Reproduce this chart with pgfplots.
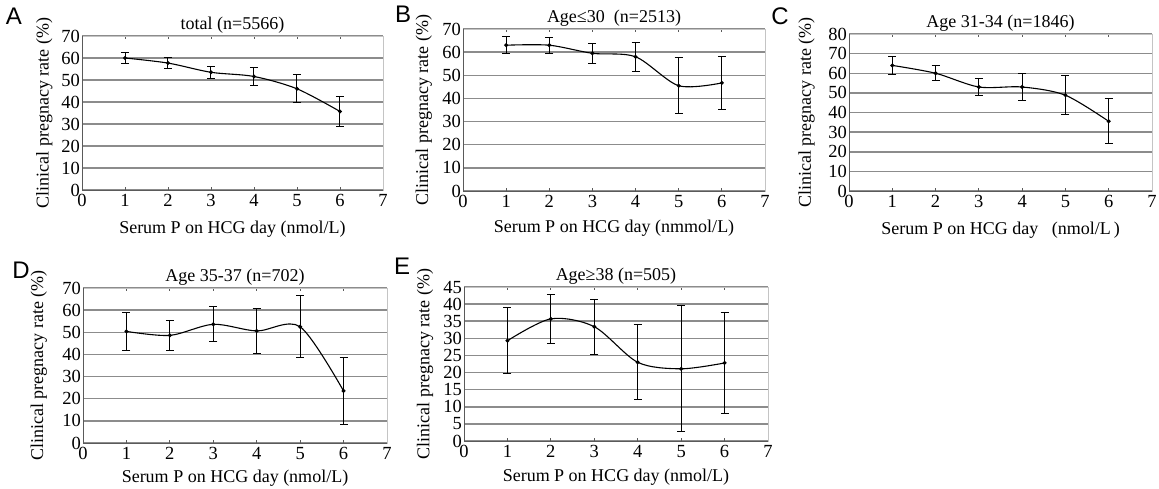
\documentclass[border=0pt]{standalone}
\usepackage{fontspec}
\setmainfont{Liberation Serif}
\newfontfamily\letterfont{Liberation Sans}
\usepackage{pgfplots}
\pgfplotsset{compat=1.18}

\definecolor{gridgray}{HTML}{8C8C8C}
\definecolor{framegray}{HTML}{C4C4C4}
\definecolor{axisdark}{HTML}{5A5A5A}

% x = serum P group, y = clinical pregnancy rate, e = error
\pgfplotstableread{
x y e
1 60.0 2.5
2 57.7 2.4
3 53.5 2.7
4 51.6 4.1
5 46.0 6.3
6 35.7 6.7
}\datA
\pgfplotstableread{
x y e
1 63.0 3.6
2 63.0 3.4
3 59.5 4.2
4 58.0 6.3
5 45.5 12.0
6 46.7 11.4
}\datB
\pgfplotstableread{
x y e
1 64.0 4.7
2 60.0 3.7
3 53.0 4.5
4 53.0 7.0
5 48.8 10.0
6 35.5 11.5
}\datC
\pgfplotstableread{
x y e
1 50.4 8.6
2 48.6 6.6
3 53.6 7.9
4 50.6 10.1
5 52.5 14.0
6 23.5 15.2
}\datD
\pgfplotstableread{
x y e
1 29.3 9.6
2 35.7 7.1
3 33.4 8.0
4 23.0 10.9
5 21.1 18.4
6 22.8 14.8
}\datE

\pgfplotsset{
  panel/.style={
    scale only axis,
    anchor=south west,
    xmin=0, xmax=7, xtick={0,...,7}, ymin=0,
    ymajorgrids,
    grid style={draw=gridgray, line width=1.5pt},
    axis line style={draw=framegray, line width=0.8pt},
    tick align=inside,
    major tick length=3pt,
    xtick style={draw=axisdark, line width=0.8pt},
    ytick style={draw=none},
    tick label style={font=\fontsize{18.5}{20}\selectfont},
    xticklabel={\pgfmathparse{int(round(\tick))}\pgfmathresult},
    yticklabel={\pgfmathparse{int(round(\tick))}\pgfmathresult},
    yticklabel style={inner sep=2pt},
    xticklabel style={inner sep=4pt},
    title style={font=\fontsize{18}{20}\selectfont, yshift=-7pt},
    label style={font=\fontsize{18}{20}\selectfont},
    ylabel={Clinical pregnacy rate (\%)},
    clip=false,
  },
  curve/.style={
    black, line width=1.1pt, smooth,
    mark=*, mark size=1.4pt,
    error bars/.cd, y dir=both, y explicit,
    error bar style={black, line width=1pt},
    error mark options={rotate=90, black, line width=1pt, mark size=4pt},
  },
}

\newcommand{\darkaxes}{\draw[axisdark, line width=0.9pt] (rel axis cs:0,1) -- (rel axis cs:0,0) -- (rel axis cs:1,0);}

\begin{document}
\begin{tikzpicture}
\useasboundingbox (0pt,0pt) rectangle (1159pt,-489pt);

% A
\begin{axis}[panel, at={(82pt,-190pt)}, width=301pt, height=154pt,
  ymax=70, ytick={0,10,...,70},
  title={total (n=5566)},
  xlabel={Serum P on HCG day (nmol/L)},
  ylabel style={at={(axis description cs:-0.125,0.5)}, anchor=center},
  xlabel style={at={(axis description cs:0.5,0)}, yshift=-39pt, anchor=center}]
\addplot[curve] table[x=x, y=y, y error=e] {\datA};
\darkaxes
\end{axis}

% B
\begin{axis}[panel, at={(463pt,-191pt)}, width=302pt, height=162pt,
  ymax=70, ytick={0,10,...,70},
  title={Age≤30\ \ (n=2513)},
  xlabel={Serum P on HCG day (nmmol/L)},
  ylabel style={at={(axis description cs:-0.13,0.5)}, anchor=center},
  xlabel style={at={(axis description cs:0.5,0)}, yshift=-37pt, anchor=center}]
\addplot[curve] table[x=x, y=y, y error=e] {\datB};
\darkaxes
\end{axis}

% C
\begin{axis}[panel, at={(849pt,-191pt)}, width=303pt, height=157pt,
  ymax=80, ytick={0,10,...,80},
  title={Age 31-34 (n=1846)},
  xlabel={Serum P on HCG day\ \ \ (nmol/L\,)},
  ylabel style={at={(axis description cs:-0.14,0.5)}, anchor=center},
  xlabel style={at={(axis description cs:0.5,0)}, yshift=-39pt, anchor=center}]
\addplot[curve] table[x=x, y=y, y error=e] {\datC};
\darkaxes
\end{axis}

% D
\begin{axis}[panel, at={(83pt,-443pt)}, width=304pt, height=155pt,
  ymax=70, ytick={0,10,...,70},
  title={Age 35-37 (n=702)},
  xlabel={Serum P on HCG day (nmol/L)},
  ylabel style={at={(axis description cs:-0.145,0.5)}, anchor=center},
  xlabel style={at={(axis description cs:0.5,0)}, yshift=-35pt, anchor=center}]
\addplot[curve] table[x=x, y=y, y error=e] {\datD};
\darkaxes
\end{axis}

% E
\begin{axis}[panel, at={(464pt,-441pt)}, width=304pt, height=154pt,
  ymax=45, ytick={0,5,...,45},
  title={Age≥38 (n=505)},
  xlabel={Serum P on HCG day (nmol/L)},
  ylabel style={at={(axis description cs:-0.128,0.5)}, anchor=center},
  xlabel style={at={(axis description cs:0.5,0)}, yshift=-36pt, anchor=center}]
\addplot[curve] table[x=x, y=y, y error=e] {\datE};
\darkaxes
\end{axis}

% panel letters
\begin{scope}[every node/.style={font=\letterfont\fontsize{24}{26}\selectfont, inner sep=0pt}]
\node at (14pt,-16pt) {A};
\node at (403pt,-14pt) {B};
\node at (780pt,-16pt) {C};
\node at (21pt,-270pt) {D};
\node at (402pt,-266pt) {E};
\end{scope}
\end{tikzpicture}
\end{document}
